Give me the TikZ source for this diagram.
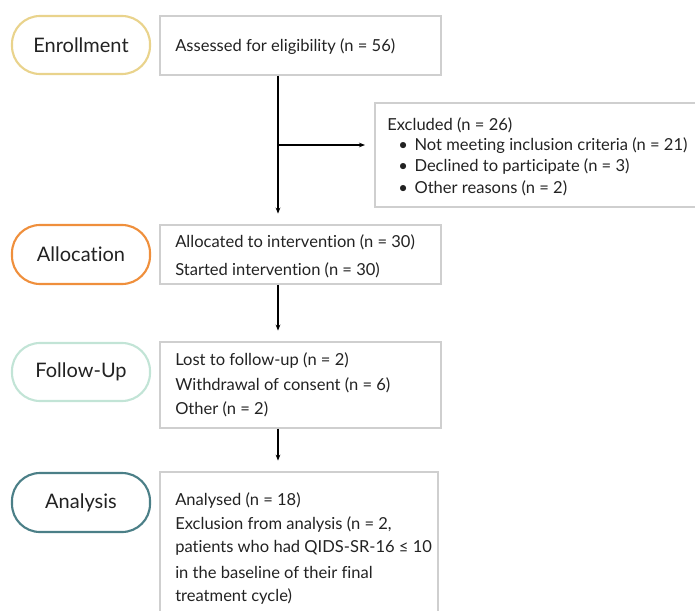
\documentclass[tikz,border=0pt]{standalone}
\usepackage{fontspec}
\setmainfont{Lato}[Ligatures={NoCommon, NoRare, NoDiscretionary}]
\usepackage{xcolor}
\usetikzlibrary{arrows.meta, fit}

\definecolor{enrollcol}{HTML}{E9D38C}
\definecolor{alloccol}{HTML}{EF8F3C}
\definecolor{followcol}{HTML}{C2E4D6}
\definecolor{analysiscol}{HTML}{4B7F87}
\definecolor{boxcol}{HTML}{CFCFCF}
\definecolor{inkcol}{HTML}{222222}

\tikzset{
    pill/.style={draw=#1, line width=1.6pt, rounded corners=21pt, inner sep=0pt},
    box/.style={draw=boxcol, line width=1.1pt, inner sep=0pt},
    stage/.style={text=inkcol, font=\fontsize{15}{18}\selectfont},
    entry/.style={anchor=west, inner sep=0pt, text=inkcol, font=\fontsize{12.4}{15}\selectfont},
    flow/.style={line width=0.9pt, -{Stealth[length=4.5pt, width=3.5pt]}, shorten >=8pt}
}

\begin{document}
\begin{tikzpicture}[x=0.75pt, y=-0.75pt]
    \useasboundingbox (0,0) rectangle (695,610);

    % stage labels on the left
    \node[pill=enrollcol, fit={(12,16) (150,74)}, label={[stage]center:Enrollment}] (enroll) {};
    \node[pill=alloccol, fit={(12,225) (150,284)}, label={[stage]center:Allocation}] (alloc) {};
    \node[pill=followcol, fit={(12,343) (150,401)}, label={[stage]center:Follow-Up}] (follow) {};
    \node[pill=analysiscol, fit={(12,473) (150,532)}, label={[stage]center:Analysis}] (analysis) {};

    % boxes
    \node[box, fit={(160,16) (441,75)}] (assess) {};
    \node[box, fit={(375,103) (700,207)}] (excluded) {};
    \node[box, fit={(160,225) (441,284)}] (allocated) {};
    \node[box, fit={(160,342) (441,428)}] (lost) {};
    \node[box, fit={(160,472) (438,615)}] (analysed) {};

    % texts
    \node[entry] at (175,47) {Assessed for eligibility (n = 56)};

    \node[entry] at (387,125) {Excluded (n = 26)};
    \foreach \y/\txt in {146/Not meeting inclusion criteria (n = 21),
                         167/Declined to participate (n = 3),
                         188/Other reasons (n = 2)}
        \node[entry] at (398,\y) {\textbullet\hspace{5pt}\txt};

    \node[entry] at (175,242) {Allocated to intervention (n = 30)};
    \node[entry] at (175,270) {Started intervention (n = 30)};

    \node[entry] at (175,361) {Lost to follow-up (n = 2)};
    \node[entry] at (175,385) {Withdrawal of consent (n = 6)};
    \node[entry] at (175,409) {Other (n = 2)};

    \node[entry] at (175,500) {Analysed (n = 18)};
    \node[entry] at (175,524) {Exclusion from analysis (n = 2,};
    \node[entry] at (175,548) {patients who had QIDS-SR-16 ≤ 10};
    \node[entry] at (175,572) {in the baseline of their final};
    \node[entry] at (175,596) {treatment cycle)};

    % arrows
    \coordinate (spine) at (278,0);
    \coordinate (branch) at (278,145);
    \draw[flow] (spine |- assess.south) -- (spine |- allocated.north);
    \draw[flow, shorten >=7pt] (branch) -- (branch -| excluded.west);
    \draw[flow] (spine |- allocated.south) -- (spine |- lost.north);
    \draw[flow] (spine |- lost.south) -- (spine |- analysed.north);
\end{tikzpicture}
\end{document}
